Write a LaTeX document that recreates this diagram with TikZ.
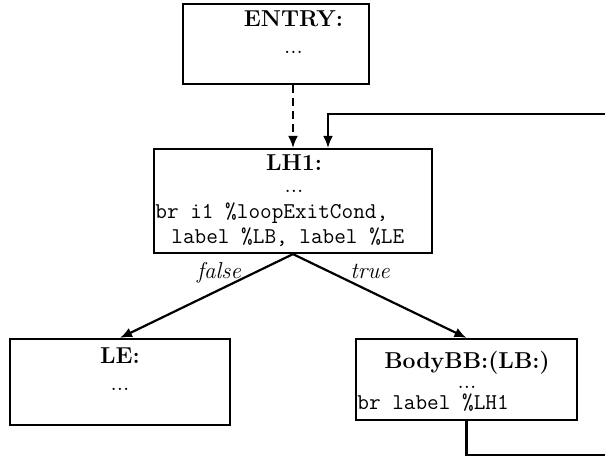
\documentclass[tikz,border=0pt]{standalone}
\usetikzlibrary{arrows.meta}
\begin{document}
\begin{tikzpicture}[x=0.5pt,y=-0.5pt,
  box/.style={draw,line width=1.1pt,rectangle,inner sep=0pt},
  txt/.style={anchor=base,inner sep=0pt,font=\fontsize{11.5}{13.5}\selectfont},
  ttxt/.style={anchor=base west,inner sep=0pt,font=\fontsize{11.3}{13.5}\selectfont\ttfamily},
  arr/.style={line width=1.1pt,-{Latex[length=6pt,width=5pt]}}]
\useasboundingbox (0,0) rectangle (605,457);
\clip (0,0) rectangle (605,457);
% boxes
\node[box,minimum width=93pt,minimum height=40pt] (ENTRY) at (276,44) {};
\node[box,minimum width=139pt,minimum height=52pt] (LH1) at (293,201) {};
\node[box,minimum width=110pt,minimum height=43pt] (LE) at (120,382) {};
\node[box,minimum width=110.5pt,minimum height=40.5pt] (BodyBB) at (466.5,379.5) {};
% texts
\node[txt] (t1) at (293.5,26) {\bfseries ENTRY:};
\node[txt] (t2) at (293.5,53) {...};
\node[txt] (t3) at (294,170) {\bfseries LH1:};
\node[txt] (t4) at (294,192) {...};
\node[ttxt] (t5) at (155,218) {br i1 \%loopExitCond,};
\node[ttxt] (t6) at (171,243) {label \%LB, label \%LE};
\node[txt] (t7) at (120,363) {\bfseries LE:};
\node[txt] (t8) at (120,390) {...};
\node[txt] (t9) at (467,368) {\bfseries BodyBB:(LB:)};
\node[txt] (t10) at (467,388) {...};
\node[ttxt] (t11) at (357,409) {br label \%LH1};
\node[txt,font=\fontsize{11.5}{13.5}\selectfont\itshape] (lf) at (219,278) {false};
\node[txt,font=\fontsize{11.5}{13.5}\selectfont\itshape] (lt) at (370,278) {true};
% connectors
\draw[arr,dash pattern=on 4pt off 2.5pt] (ENTRY.south -| LH1.north) -- (LH1.north);
\draw[arr] (LH1.south) -- (LE.north);
\draw[arr] (LH1.south) -- (BodyBB.north);
\coordinate (r1) at (620,455);
\coordinate (r2) at (620,114);
\draw[arr] (BodyBB.south) |- (r1) -- (r2) -| ([xshift=17.5pt]LH1.north);
\end{tikzpicture}
\end{document}
